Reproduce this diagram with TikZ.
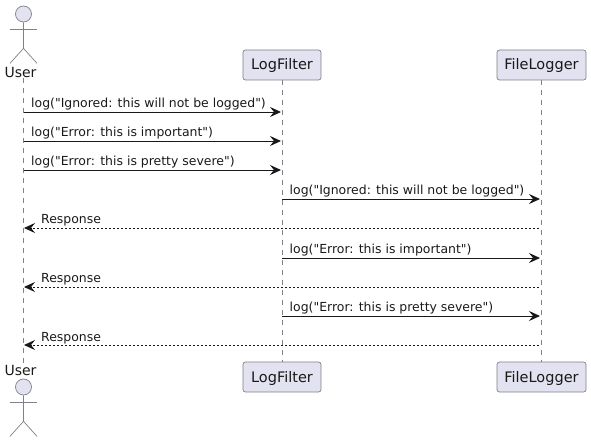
\documentclass[tikz,border=0pt]{standalone}
\usepackage{fontspec}
\setmainfont{DejaVu Sans}[Ligatures=TeXOff]
\usetikzlibrary{arrows.meta}
\definecolor{boxfill}{HTML}{E2E2F0}
\definecolor{boxline}{HTML}{80808A}
\definecolor{msgline}{HTML}{181818}
\tikzset{
    part/.style={rectangle, draw=boxline, fill=boxfill, rounded corners=2.5pt, line width=0.7pt, minimum height=30pt, inner sep=0pt, text height=11pt, text depth=1pt, font=\fontsize{14.5}{14}\selectfont, text=black!90},
    actorname/.style={inner sep=0pt, font=\fontsize{14}{14}\selectfont, text=black!90},
    limb/.style={draw=boxline, line width=0.7pt},
    lifeline/.style={draw=boxline, line width=0.7pt, dash pattern=on 5pt off 5pt},
    msg/.style={draw=msgline, line width=0.9pt, -{Stealth[length=11pt, width=10pt, inset=4pt, fill=msgline]}},
    reply/.style={msg, dash pattern=on 2pt off 2pt},
    msgtext/.style={anchor=base west, inner sep=0pt, font=\fontsize{12.45}{13}\selectfont, text=black!90}
}
\begin{document}
\begin{tikzpicture}[x=1pt, y=-1pt]
    \useasboundingbox (0,0) rectangle (591,443);
    % Participants, top and bottom
    \node[part, minimum width=78pt] (FilterTop) at (282,65) {LogFilter};
    \node[part, minimum width=89pt] (FileTop) at (541.5,65) {FileLogger};
    \node[part, minimum width=78pt] (FilterBot) at (282,377) {LogFilter};
    \node[part, minimum width=89pt] (FileBot) at (541.5,377) {FileLogger};
    \node[actorname] (UserTop) at (20.5,73) {User};
    \node[actorname] (UserBot) at (20.5,370) {User};

    % Lifelines
    \draw[lifeline] (UserTop.south -| 23.5,0) -- (UserBot.north -| 23.5,0);
    \draw[lifeline] (FilterTop) -- (FilterBot);
    \draw[lifeline] (FileTop) -- (FileBot);

    % Stick figures
    \foreach \name/\y in {HeadTop/14, HeadBot/387} {
        \node[circle, draw=boxline, fill=boxfill, line width=0.7pt, minimum size=16pt, inner sep=0pt] (\name) at (23.5,\y) {};
        \draw[limb] (\name.south) -- ++(0,26) -- +(-13.5,15) ++(0,0) -- +(13.5,15);
        \draw[limb] (10,\y+15) -- (37,\y+15);
    }

    % Messages
    \foreach \y/\sx/\ex/\txt in {
        112/23.5/281/{log("Ignored: this will not be logged")},
        141/23.5/281/{log("Error: this is important")},
        170/23.5/281/{log("Error: this is pretty severe")},
        199/282/540/{log("Ignored: this will not be logged")},
        258/282/540/{log("Error: this is important")},
        316/282/540/{log("Error: this is pretty severe")}
    } {
        \coordinate (S\y) at (\sx,\y);
        \coordinate (E\y) at (\ex,\y);
        \draw[msg] (S\y) -- (E\y);
        \node[msgtext] (T\y) at (\sx+7.5,\y-4) {\txt};
    }
    % Responses
    \foreach \y in {228,287,345} {
        \coordinate (S\y) at (539,\y);
        \coordinate (E\y) at (24,\y);
        \draw[reply] (S\y) -- (E\y);
        \node[msgtext] (T\y) at (41,\y-4) {Response};
    }
\end{tikzpicture}
\end{document}
